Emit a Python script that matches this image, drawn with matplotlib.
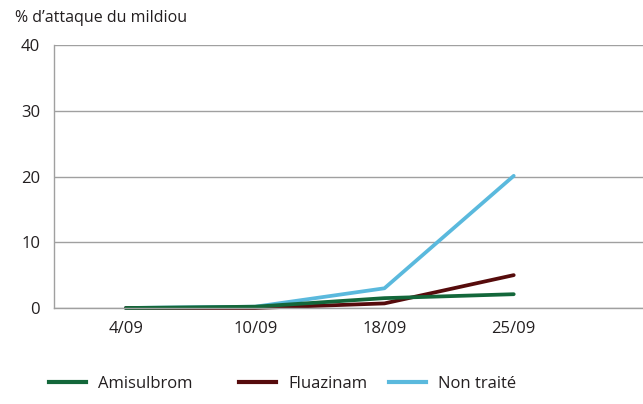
import matplotlib
matplotlib.use("Agg")
import matplotlib.pyplot as plt
from matplotlib.lines import Line2D

plt.rcParams['font.family'] = ['Open Sans', 'DejaVu Sans']

dates = ['4/09', '10/09', '18/09', '25/09']
amisulbrom = [0, 0.2, 1.5, 2.1]
fluazinam = [0, 0, 0.7, 5.0]
non_traite = [0, 0.2, 3.0, 20.1]
yticks = [0, 10, 20, 30, 40]

c_green = '#13673a'
c_red = '#560b0c'
c_blue = '#5ab9dd'
c_grid = '#a0a0a0'

fig = plt.figure(figsize=(6.43, 4.04), dpi=100)
ax = fig.add_axes([0.084, 0.2376, 0.916, 0.651])

x = list(range(len(dates)))
ax.plot(x, non_traite, color=c_blue, lw=2.7, clip_on=False, solid_capstyle='round')
ax.plot(x, fluazinam, color=c_red, lw=2.7, clip_on=False, solid_capstyle='round')
ax.plot(x, amisulbrom, color=c_green, lw=2.7, clip_on=False, solid_capstyle='round')

ax.set_ylim(0, 40)
ax.set_xlim(-0.556, 4.0)
ax.set_yticks(yticks)
ax.set_xticks(x)
ax.set_xticklabels(dates)
ax.yaxis.grid(True, color=c_grid, lw=1)
ax.set_axisbelow(True)
for s in ['top', 'right']:
    ax.spines[s].set_visible(False)
for s in ['left', 'bottom']:
    ax.spines[s].set_color(c_grid)
    ax.spines[s].set_linewidth(1)
ax.tick_params(length=0, labelsize=12, colors='#231f20')
ax.tick_params(axis='y', pad=10)
ax.tick_params(axis='x', pad=9)

fig.text(0.023, 0.955, "% d\u2019attaque du mildiou", fontsize=11.5,
         color='#231f20', va='center', ha='left')

# legend entries, one per series
entries = [('Amisulbrom', c_green, 0.076), ('Fluazinam', c_red, 0.372),
           ('Non traité', c_blue, 0.605)]
for label, col, xpos in entries:
    h = Line2D([], [], color=col, lw=3)
    leg = fig.legend([h], [label], loc='center left', bbox_to_anchor=(xpos, 0.05),
                     frameon=False, handlelength=2.2, handletextpad=0.75,
                     borderaxespad=0, borderpad=0, labelcolor='#231f20',
                     prop={'size': 12})

fig.savefig('out.png', dpi=100)
